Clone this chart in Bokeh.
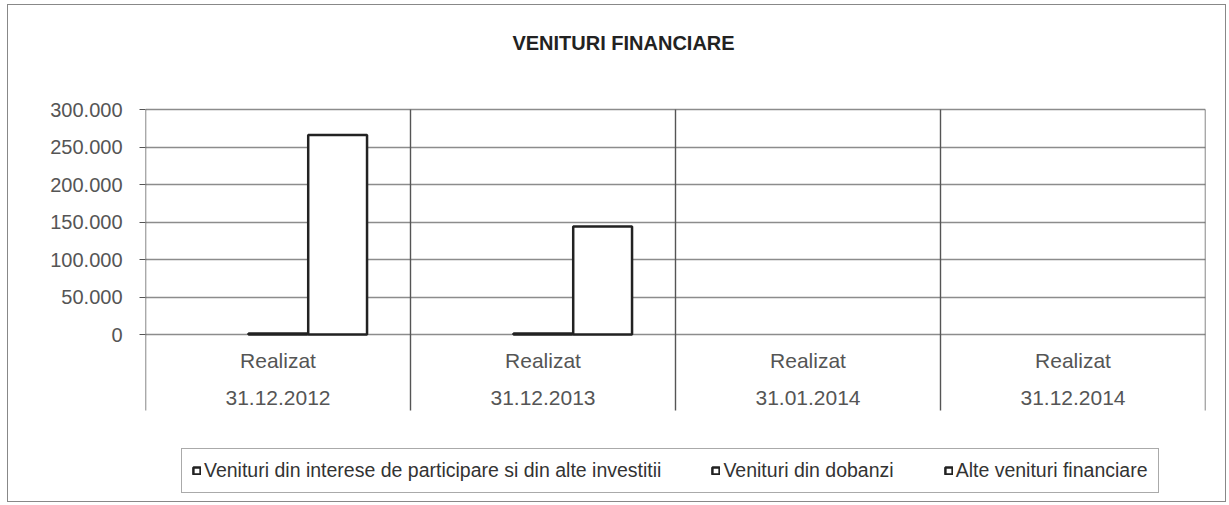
from bokeh.plotting import figure
from bokeh.models import ColumnDataSource, Range1d, FixedTicker, Legend, LegendItem, Label
from bokeh.transform import dodge
from bokeh.embed import file_html
from bokeh.resources import INLINE
from bokeh.core.properties import value

# ---- data ----
categories_top = ["Realizat", "Realizat", "Realizat", "Realizat"]
categories_date = ["31.12.2012", "31.12.2013", "31.01.2014", "31.12.2014"]
series_names = [
    "Venituri din interese de participare si din alte investitii",
    "Venituri din dobanzi",
    "Alte venituri financiare",
]
interese = [0, 0, 0, 0]
dobanzi = [1500, 1200, 0, 0]
alte = [266000, 144000, 0, 0]
y_ticks = [0, 50000, 100000, 150000, 200000, 250000, 300000]
y_tick_labels = ["0", "50.000", "100.000", "150.000", "200.000", "250.000", "300.000"]
chart_title = "VENITURI FINANCIARE"

FONT = "Liberation Sans"
nan = float("nan")
PX = 1333.333          # data units per pixel on the y scale
SEP_BOTTOM = -76 * PX  # category separators end 76 px below the zero line


def blank_zero(vals):
    return [v if v else nan for v in vals]


n = len(categories_date)
xc = [i + 0.5 for i in range(n)]
src = ColumnDataSource(dict(
    x=xc,
    interese=blank_zero(interese),
    dobanzi=blank_zero(dobanzi),
    alte=blank_zero(alte),
    top_label=categories_top,
    date_label=categories_date,
    y_top=[-26 * PX] * n,
    y_date=[-63 * PX] * n,
))
bounds = list(range(n + 1))
sep = ColumnDataSource(dict(
    x=bounds,
    y0=[y_ticks[-1]] * (n + 1),
    y1=[SEP_BOTTOM] * (n + 1),
))

p = figure(
    width=1219, height=498,
    x_range=Range1d(0, n),
    y_range=Range1d(y_ticks[-1] - 394 * PX, y_ticks[-1] + 104 * PX),
    output_backend="svg", toolbar_location=None,
    min_border_left=137, min_border_right=22, min_border_top=0, min_border_bottom=0,
)
p.styles = {"border": "1px solid #888888", "margin": "4px 0 0 7px"}
p.outline_line_color = None
p.background_fill_color = "white"
p.border_fill_color = "white"

# axes
p.xaxis.visible = False
yax = p.yaxis[0]
yax.ticker = FixedTicker(ticks=y_ticks)
yax.major_label_overrides = {t: l for t, l in zip(y_ticks, y_tick_labels)}
yax.axis_line_color = None
yax.major_tick_out = 6
yax.major_tick_in = 0
yax.minor_tick_line_color = None
yax.major_tick_line_color = "#555555"
yax.major_label_standoff = 17
yax.major_label_text_font = FONT
yax.major_label_text_font_size = "20px"
yax.major_label_text_color = "#555555"

# grids
p.ygrid.ticker = FixedTicker(ticks=y_ticks)
p.ygrid.grid_line_color = "#8c8c8c"
p.ygrid.grid_line_width = 1.6
p.xgrid.visible = False

# category separators (vertical lines through plot and label area)
p.segment(x0="x", y0="y0", x1="x", y1="y1", source=sep,
          line_color="#555555", line_width=1.4)

# bars
w = 0.222
r1 = p.vbar(x=dodge("x", -0.225), top="interese", bottom=0, width=w, source=src,
            fill_color="white", line_color="#222222", line_width=2.5)
r2 = p.vbar(x=dodge("x", 0.0), top="dobanzi", bottom=0, width=w, source=src,
            fill_color="white", line_color="#222222", line_width=2.5)
r3 = p.vbar(x=dodge("x", 0.225), top="alte", bottom=0, width=w, source=src,
            fill_color="white", line_color="#222222", line_width=2.5)

# category labels
p.text(x="x", y="y_top", text="top_label", source=src, text_align="center",
       text_baseline="middle", text_font=value(FONT), text_font_size="21px",
       text_color="#555555")
p.text(x="x", y="y_date", text="date_label", source=src, text_align="center",
       text_baseline="middle", text_font=value(FONT), text_font_size="21px",
       text_color="#555555")

# title
p.add_layout(Label(x=n / 2, y=y_ticks[-1], x_offset=-52, y_offset=67, text=chart_title,
                   text_align="center", text_baseline="middle", text_font=FONT,
                   text_font_size="20px", text_font_style="bold", text_color="#222222"))

legend = Legend(
    items=[LegendItem(label=series_names[0], renderers=[r1]),
           LegendItem(label=series_names[1], renderers=[r2]),
           LegendItem(label=series_names[2], renderers=[r3])],
    orientation="horizontal",
    location=(36, 10),
    padding=10, spacing=50, margin=0,
    glyph_width=9, glyph_height=9, label_standoff=3,
    label_text_font=FONT, label_text_font_size="19.5px", label_text_color="#333333",
    border_line_color="#555555", border_line_width=1,
    background_fill_color="white",
)
p.add_layout(legend, "center")

open("out.html", "w").write(file_html(p, INLINE))
